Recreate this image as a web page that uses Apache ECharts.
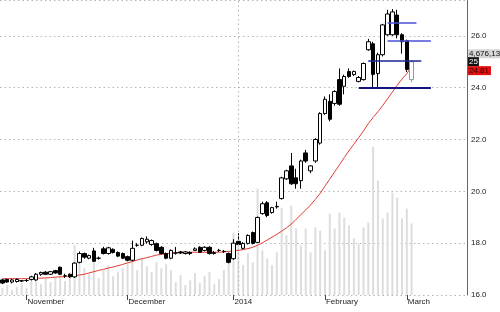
<!DOCTYPE html>
<html><head><meta charset="utf-8">
<script src="https://cdn.jsdelivr.net/npm/echarts@6/dist/echarts.min.js"></script>
<style>html,body{margin:0;padding:0;background:#fff}#c{width:500px;height:312px}</style>
</head><body><div id="c"></div>
<script>
const opens = [16.58,16.60,16.50,16.52,16.55,16.56,16.60,16.58,16.80,16.88,16.80,16.94,17.07,16.74,16.80,16.70,17.26,17.60,17.42,17.70,17.42,17.78,17.60,17.76,17.64,17.60,17.48,17.34,17.92,17.92,18.05,17.95,17.98,17.84,17.60,17.42,17.62,17.66,17.60,17.64,17.72,17.84,17.72,17.84,17.60,17.72,17.68,17.60,17.40,18.07,17.80,17.99,18.41,18.03,19.14,19.56,19.18,19.40,19.72,20.48,20.98,20.52,20.41,21.48,20.79,21.17,21.86,23.00,23.47,23.39,24.31,24.05,24.62,24.50,24.24,24.31,25.46,25.69,24.54,25.27,26.04,26.04,26.80,26.04,25.81,24.31];
const closes = [16.46,16.50,16.58,16.60,16.54,16.56,16.70,16.80,16.87,16.80,16.90,16.85,16.80,16.74,16.70,17.23,17.60,17.46,17.52,17.30,17.42,17.60,17.82,17.64,17.50,17.42,17.34,17.80,17.92,18.18,18.15,18.10,17.72,17.60,17.42,17.72,17.62,17.62,17.66,17.60,17.78,17.65,17.84,17.60,17.64,17.72,17.68,17.26,18.00,17.95,17.99,18.30,17.99,18.99,19.52,19.07,19.37,19.42,20.52,20.79,20.29,20.29,21.17,21.17,20.98,22.00,23.00,23.55,22.78,23.85,23.36,24.43,24.43,24.62,24.39,24.93,25.77,24.51,25.27,26.42,26.84,26.92,26.04,25.77,24.70,25.00];
const lows = [16.42,16.47,16.45,16.48,16.50,16.50,16.56,16.55,16.74,16.78,16.77,16.82,16.78,16.66,16.66,16.66,17.22,17.40,17.38,17.28,17.36,17.56,17.56,17.60,17.46,17.38,17.30,17.30,17.86,17.88,17.98,17.90,17.68,17.56,17.38,17.38,17.56,17.58,17.56,17.54,17.70,17.62,17.68,17.56,17.56,17.66,17.62,17.22,17.36,17.92,17.76,17.95,17.95,18.00,19.10,19.00,19.14,19.33,19.68,20.44,20.25,20.10,20.10,21.10,20.70,21.10,21.80,22.95,22.70,23.30,23.30,23.74,24.38,24.45,24.20,24.27,25.42,24.00,24.00,25.20,26.00,26.00,25.90,25.31,24.60,24.20];
const highs = [16.62,16.63,16.62,16.64,16.58,16.62,16.74,16.85,16.90,16.92,16.93,16.97,17.10,16.82,16.83,17.26,17.68,17.64,17.56,17.82,17.48,17.86,17.86,17.80,17.68,17.64,17.52,18.10,18.00,18.22,18.26,18.14,18.02,17.88,17.64,17.76,17.85,17.70,17.70,17.68,17.84,17.88,17.88,17.88,17.70,17.78,17.74,17.64,18.15,18.38,18.04,18.34,18.45,19.03,19.60,19.62,19.40,19.60,20.56,20.83,21.48,20.87,21.22,21.60,21.00,22.05,23.05,23.66,23.74,23.90,24.74,24.50,24.74,24.66,24.45,24.97,25.88,25.77,25.35,26.46,27.00,27.03,27.00,26.10,25.85,25.05];
const ma20 = [16.63,16.63,16.63,16.63,16.63,16.63,16.64,16.64,16.65,16.66,16.67,16.69,16.70,16.71,16.73,16.75,16.77,16.80,16.85,16.90,16.95,16.99,17.04,17.08,17.13,17.18,17.24,17.29,17.35,17.40,17.44,17.49,17.54,17.57,17.59,17.61,17.63,17.65,17.65,17.65,17.65,17.65,17.65,17.65,17.65,17.65,17.66,17.68,17.70,17.72,17.75,17.79,17.84,17.92,18.01,18.12,18.23,18.34,18.46,18.59,18.73,18.92,19.10,19.28,19.47,19.69,19.92,20.20,20.47,20.75,21.02,21.30,21.57,21.82,22.07,22.33,22.61,22.85,23.07,23.31,23.57,23.83,24.09,24.33,24.54,24.81];
const volumes = [450000,650000,320000,520000,780000,450000,970000,1300000,710000,1100000,840000,1170000,1750000,910000,1230000,3250000,2270000,1750000,1360000,2140000,1100000,1620000,1950000,1230000,1490000,1750000,2140000,2920000,1620000,2400000,1880000,1490000,2140000,1750000,2010000,1620000,840000,1300000,650000,970000,1430000,780000,1230000,1490000,710000,1040000,1620000,2790000,4090000,3570000,1950000,2730000,2140000,6950000,2920000,2400000,1950000,2790000,5710000,3900000,5840000,4350000,3250000,4350000,2790000,4420000,4220000,2920000,5320000,4350000,5390000,5060000,4550000,3700000,3380000,4420000,4740000,9680000,7470000,5000000,5390000,6690000,6360000,5000000,5650000,4676130];
const slotCount = 97;
const categories = Array.from({length: slotCount}, (_, i) => 'd' + i);
const monthTicks = {5:'November', 26:'December', 48:'2014', 67:'February', 84:'March'};
const yearLineIndex = 49;
const levelLines = [
  [74, 89, 24.00, '#14147e', 2],
  [76, 87, 25.04, '#1c2496', 1.5],
  [80, 89, 25.81, '#4a50d8', 1.5],
  [80, 86, 26.50, '#4a50d8', 1.5]
];

const n = closes.length;
const candleData = opens.map((o, i) => {
  const d = {value: [o, closes[i], lows[i], highs[i]]};
  if (i === n - 1) d.itemStyle = {color: '#fff', borderColor: '#999', borderColor0: '#999'};
  return d;
});
const lastClose = closes[n - 1];
const lastMA = ma20[n - 1];
const lastVol = volumes[n - 1];

const chart = echarts.init(document.getElementById('c'), null, {renderer: 'canvas'});
const font = 'Liberation Sans, Arial, sans-serif';
const hidden = {color: 'rgba(0,0,0,0)', width: 0};
chart.setOption({
  animation: false,
  textStyle: {fontFamily: font},
  grid: {left: 0, right: 33, top: -2, bottom: 17},
  xAxis: {
    type: 'category', data: categories, boundaryGap: true,
    axisLine: {show: false},
    axisTick: {show: true, alignWithLabel: true, length: 5, lineStyle: {color: '#444'},
      interval: (idx) => monthTicks[idx] !== undefined},
    axisLabel: {show: true, fontSize: 8, color: '#222', align: 'left', margin: 3, padding: [0,0,0,1],
      interval: (idx) => monthTicks[idx] !== undefined,
      formatter: (v, idx) => monthTicks[idx] || ''},
    splitLine: {show: false}
  },
  yAxis: [{
    type: 'value', position: 'right', min: 16, max: 27.38, interval: 2,
    axisLine: {show: true, lineStyle: {color: '#666', width: 1}},
    axisTick: {show: false},
    axisLabel: {fontSize: 8, color: '#222', margin: 4, showMaxLabel: false, formatter: (v) => v.toFixed(1)},
    splitLine: {show: true, lineStyle: {color: '#b5b5b5', type: [1.5, 3], width: 1}}
  }, {
    type: 'value', min: 0, max: 19290000, show: false, splitLine: {show: false}
  }],
  series: [{
    type: 'bar', yAxisIndex: 1, data: volumes, barWidth: 2,
    itemStyle: {color: '#dddddd'}, silent: true, z: 1,
    markLine: {
      silent: true, symbol: ['none', 'none'], label: {show: false},
      lineStyle: {color: '#b5b5b5', type: [1.5, 3], width: 1},
      data: [{xAxis: categories[yearLineIndex]}]
    }
  }, {
    type: 'line', data: ma20, showSymbol: false, symbol: 'none',
    lineStyle: {color: '#e23b33', width: 1}, z: 3, silent: true
  }, {
    type: 'candlestick', data: candleData, barWidth: 4, z: 4,
    itemStyle: {color: '#fff', color0: '#000', borderColor: '#000', borderColor0: '#000', borderWidth: 1},
    markLine: {
      silent: true, symbol: ['none', 'none'], label: {show: false}, z: 5,
      data: levelLines.map(([a, b, v, col, w]) => [
        {coord: [categories[a], v], lineStyle: {color: col, width: w, type: 'solid'}},
        {coord: [categories[b], v]}
      ]).concat([
        {yAxis: lastClose, lineStyle: hidden,
          label: {show: true, position: 'end', distance: 1, offset: [0, -8], formatter: () => lastVol.toLocaleString('en-US'),
            backgroundColor: '#d6d6d6', color: '#111', fontSize: 8, padding: [1, 1, 0, 1], fontFamily: font}},
        {yAxis: lastClose, lineStyle: hidden,
          label: {show: true, position: 'end', distance: 1, offset: [0, 0], formatter: () => String(Math.round(lastClose)),
            backgroundColor: '#111', color: '#fff', fontSize: 8, padding: [1, 1, 0, 1], fontFamily: font}},
        {yAxis: lastMA, lineStyle: hidden,
          label: {show: true, position: 'end', distance: 1, offset: [0, 4], formatter: () => lastMA.toFixed(2),
            backgroundColor: '#e01010', color: '#300', fontSize: 8, padding: [1, 2, 0, 1], fontFamily: font}}
      ])
    }
  }]
});
</script>
</body></html>
